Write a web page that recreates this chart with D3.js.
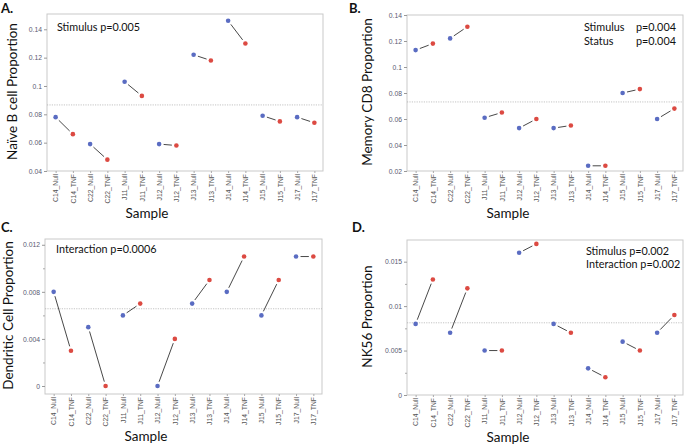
<!DOCTYPE html>
<html><head><meta charset="utf-8">
<script src="https://cdn.jsdelivr.net/npm/d3@7"></script>
<style>
body{margin:0;background:#fff;}
svg{display:block;font-family:Lato,"Liberation Sans",sans-serif;}
</style></head>
<body><svg id="c" width="685" height="445"></svg>
<script>
const samples = ["C14_Null","C14_TNF","C22_Null","C22_TNF","J11_Null","J11_TNF","J12_Null","J12_TNF","J13_Null","J13_TNF","J14_Null","J14_TNF","J15_Null","J15_TNF","J17_Null","J17_TNF"];
const subjects = ["C14","C22","J11","J12","J13","J14","J15","J17"];

const naiveB = [0.078,0.066,0.059,0.048,0.103,0.093,0.059,0.058,0.122,0.118,0.146,0.130,0.079,0.075,0.078,0.074];
const memCD8 = [0.113,0.118,0.122,0.131,0.061,0.065,0.053,0.060,0.053,0.055,0.024,0.024,0.080,0.083,0.060,0.068];
const dendritic = [0.008,0.003,0.005,0.000,0.006,0.007,0.000,0.004,0.007,0.009,0.008,0.011,0.006,0.009,0.011,0.011];
const nk56 = [0.008,0.013,0.007,0.012,0.005,0.005,0.016,0.017,0.008,0.007,0.003,0.002,0.006,0.005,0.007,0.009];

const ticksA = [0.04,0.06,0.08,0.10,0.12,0.14];
const ticksB = [0.02,0.04,0.06,0.08,0.10,0.12,0.14];
const ticksC = [0,0.004,0.008,0.012];
const ticksD = [0,0.005,0.010,0.015];
const minorC = [0.002,0.006,0.010];
const minorD = [0.0025,0.0075,0.0125];

const yTitles = ["Naïve B cell Proportion","Memory CD8 Proportion","Dendritic Cell Proportion","NK56 Proportion"];
const panelLetters = ["A.","B.","C.","D."];
const xTitle = "Sample";
const notesA = ["Stimulus p=0.005"];
const notesB = [["Stimulus","p=0.004"],["Status","p=0.004"]];
const notesC = ["Interaction p=0.0006"];
const notesD = ["Stimulus p=0.002","Interaction p=0.002"];

const svg = d3.select("#c");
const fmt = v => String(+v.toFixed(4));
const BLUE = "#5a6cc2", RED = "#dc4a42";
const NOTE = 10.8;

function panel(cfg){
  const {x0,x1,y0,y1,domain,values,ticks,minor,title,letter,lx,ly,titleX} = cfg;
  const g = svg.append("g");
  const x = d3.scalePoint().domain(samples).range([x0,x1]).padding(0.5);
  const y = d3.scaleLinear().domain(domain).range([y1,y0]);
  g.append("rect").attr("x",x0).attr("y",y0).attr("width",x1-x0).attr("height",y1-y0)
    .attr("fill","none").attr("stroke","#c9c9c9").attr("stroke-width",1);
  const ya = d3.axisLeft(y).tickValues(ticks).tickFormat(fmt).tickSize(3).tickPadding(2);
  const ag = g.append("g").attr("transform",`translate(${x0},0)`).call(ya);
  ag.select(".domain").remove();
  ag.selectAll("line").attr("stroke","#999");
  ag.selectAll("text").attr("font-size",6.8).attr("fill","#5a5a72");
  if(minor){
    const mg = g.append("g").attr("transform",`translate(${x0},0)`).call(d3.axisLeft(y).tickValues(minor).tickFormat("").tickSize(2));
    mg.select(".domain").remove();
    mg.selectAll("line").attr("stroke","#aaa");
  }
  const xa = d3.axisBottom(x).tickSize(2).tickPadding(0);
  const xg = g.append("g").attr("transform",`translate(0,${y1})`).call(xa);
  xg.select(".domain").remove();
  xg.selectAll("line").attr("stroke","#aaa");
  xg.selectAll("text").attr("font-size",6.8).attr("fill","#555")
    .attr("text-anchor","end").attr("dy","0.32em")
    .attr("transform","translate(0,3) rotate(-90)").attr("x",0).attr("y",0);
  const mean = d3.mean(values);
  g.append("line").attr("x1",x0).attr("x2",x1).attr("y1",y(mean)).attr("y2",y(mean))
    .attr("stroke","#aaa").attr("stroke-width",0.7).attr("stroke-dasharray","1.2,1.2");
  subjects.forEach((s,i)=>{
    const a=[x(s+"_Null"),y(values[2*i])], b=[x(s+"_TNF"),y(values[2*i+1])];
    const dx=b[0]-a[0], dy=b[1]-a[1], L=Math.hypot(dx,dy), gap=4.5;
    g.append("line").attr("x1",a[0]+dx/L*gap).attr("y1",a[1]+dy/L*gap)
      .attr("x2",b[0]-dx/L*gap).attr("y2",b[1]-dy/L*gap)
      .attr("stroke","#333").attr("stroke-width",0.9);
  });
  g.selectAll("circle.p").data(values).join("circle")
    .attr("cx",(d,i)=>x(samples[i])).attr("cy",d=>y(d)).attr("r",2.3)
    .attr("fill",(d,i)=>i%2===0?BLUE:RED);
  g.append("text").attr("transform",`translate(${lx},${(y0+y1)/2 - 1}) rotate(-90)`)
    .attr("text-anchor","middle").attr("dy","0.35em").attr("font-size",13.5).attr("fill","#111").text(title);
  g.append("text").attr("x",x0+titleX).attr("y",y1+42).attr("text-anchor","middle")
    .attr("dy","0.35em").attr("font-size",13.5).attr("fill","#111").text(xTitle);
  g.append("text").attr("x",ly[0]).attr("y",ly[1]).attr("font-size",13).attr("font-weight","bold")
    .attr("fill","#111").text(letter);
  return {g,x,y};
}

const A = panel({x0:47,x1:323,y0:14,y1:171,domain:[0.04,0.1508],values:naiveB,ticks:ticksA,minor:null,
  title:yTitles[0],letter:panelLetters[0],lx:12.5,ly:[1,12.5],titleX:100});
A.g.append("text").attr("x",57).attr("y",27).attr("dy","0.35em").attr("font-size",NOTE).attr("fill","#111").text(notesA[0]);

const B = panel({x0:407,x1:683,y0:15,y1:171,domain:[0.02,0.14],values:memCD8,ticks:ticksB,minor:null,
  title:yTitles[1],letter:panelLetters[1],lx:367.5,ly:[349,12.5],titleX:101});
notesB.forEach((r,i)=>{
  B.g.append("text").attr("x",584).attr("y",27+14*i).attr("dy","0.35em").attr("font-size",NOTE).attr("fill","#111").text(r[0]);
  B.g.append("text").attr("x",636).attr("y",27+14*i).attr("dy","0.35em").attr("font-size",NOTE).attr("fill","#111").text(r[1]);
});

const C = panel({x0:45,x1:322,y0:239,y1:394,domain:[-0.00068,0.01249],values:dendritic,ticks:ticksC,minor:minorC,
  title:yTitles[2],letter:panelLetters[2],lx:8.7,ly:[1,232],titleX:101});
C.g.append("text").attr("x",56).attr("y",249.5).attr("dy","0.35em").attr("font-size",NOTE).attr("fill","#111").text(notesC[0]);

const D = panel({x0:407,x1:683,y0:240,y1:395,domain:[0,0.01744],values:nk56,ticks:ticksD,minor:minorD,
  title:yTitles[3],letter:panelLetters[3],lx:367.5,ly:[352,232],titleX:101});
notesD.forEach((t,i)=>{
  D.g.append("text").attr("x",586).attr("y",251.5+12.7*i).attr("dy","0.35em").attr("font-size",NOTE).attr("fill","#111").text(t);
});
</script></body></html>
